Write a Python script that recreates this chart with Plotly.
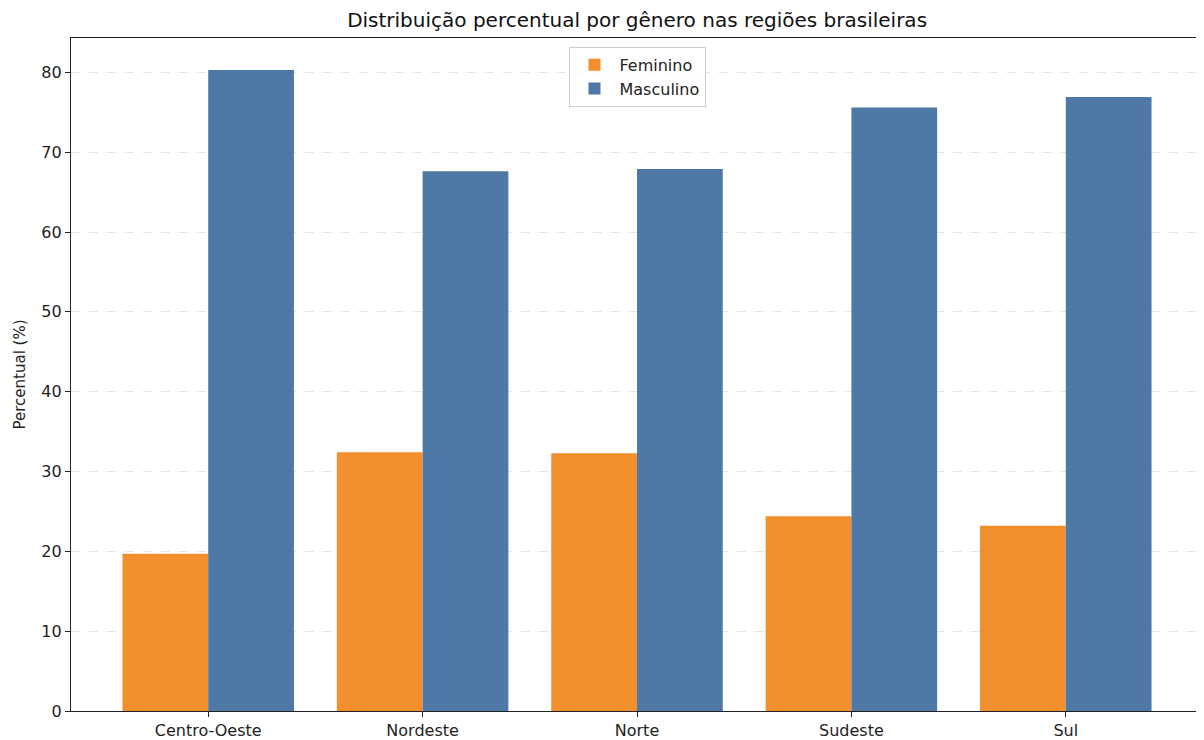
import plotly.graph_objects as go

regioes = ["Centro-Oeste", "Nordeste", "Norte", "Sudeste", "Sul"]
feminino = [19.7, 32.4, 32.3, 24.4, 23.2]
masculino = [80.3, 67.6, 67.9, 75.6, 76.9]
y_ticks = [0, 10, 20, 30, 40, 50, 60, 70, 80]

fig = go.Figure()
fig.add_trace(go.Bar(x=regioes, y=feminino, name="Feminino",
                     marker=dict(color="#f28e2b", line=dict(width=0))))
fig.add_trace(go.Bar(x=regioes, y=masculino, name="Masculino",
                     marker=dict(color="#4e79a7", line=dict(width=0))))

# page has an 8px body margin, so the figure is sized to end at the window edge
fig.update_layout(
    width=1196,
    height=732,
    paper_bgcolor="white",
    plot_bgcolor="white",
    font=dict(family="DejaVu Sans", size=16, color="#222"),
    title=dict(
        text="Distribuição percentual por gênero nas regiões brasileiras",
        x=0.526, xanchor="center", y=0.984, yanchor="middle",
        font=dict(size=20, color="#111"),
    ),
    barmode="group",
    bargap=0.2,
    bargroupgap=0,
    margin=dict(l=63, r=1, t=30, b=29),
    legend=dict(
        x=0.5, xanchor="center", y=0.987, yanchor="top",
        bgcolor="rgba(255,255,255,0.8)", bordercolor="#ccc", borderwidth=1,
        font=dict(size=16), itemwidth=40,
    ),
    showlegend=True,
)
fig.update_xaxes(
    range=[-0.64, 4.64],
    showline=True, linecolor="#222", linewidth=1.2, mirror=True,
    ticks="outside", ticklen=5, tickcolor="#222",
    showgrid=False,
)
fig.update_yaxes(
    range=[0, 84.3],
    tickvals=y_ticks,
    showline=True, linecolor="#222", linewidth=1.2, mirror=True,
    ticks="outside", ticklen=5, tickcolor="#222",
    showgrid=True, gridcolor="rgba(180,180,180,0.35)", griddash="dash",
    zeroline=False,
    title=dict(text="Percentual (%)", standoff=12, font=dict(size=15)),
)

fig.write_html("out.html")
